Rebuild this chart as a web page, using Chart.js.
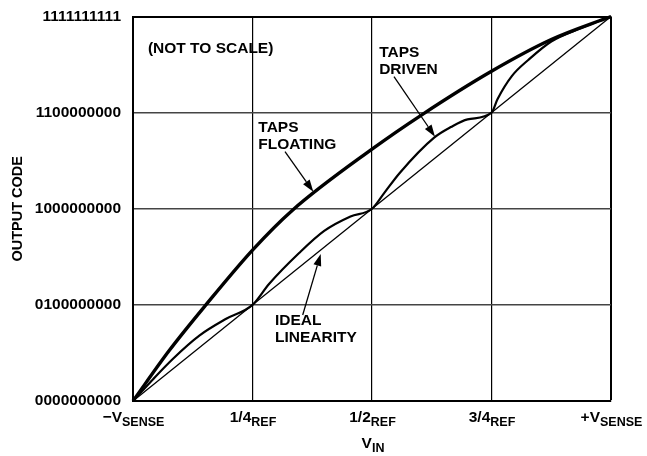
<!DOCTYPE html>
<html>
<head>
<meta charset="utf-8">
<script src="https://cdn.jsdelivr.net/npm/chart.js@4"></script>
<style>
	body { margin: 0; background: #fff; }
</style>
</head>
<body>
<canvas id="codeChart" width="647" height="456"></canvas>
<script>
const FONT = '"Liberation Sans", Arial, Helvetica, sans-serif';

// axis text
const yTickLabels = ["0000000000", "0100000000", "1000000000", "1100000000", "1111111111"];
const xTickMain = ["\u2212V", "1/4", "1/2", "3/4", "+V"];
const xTickSub = ["SENSE", "REF", "REF", "REF", "SENSE"];

// curves, in grid units (0..4 on both axes)
const idealX = [0, 4];
const idealY = [0, 4];

const floatingX = [0, 0.3, 0.61, 1, 1.33, 2, 2.42, 3, 3.5, 4];
const floatingY = [0, 0.52, 1, 1.57, 1.98, 2.62, 2.98, 3.43, 3.76, 4];

const drivenX = [0, 0.17, 0.335, 0.555, 0.78, 1, 1.14, 1.39, 1.6, 1.82, 2, 2.1, 2.23, 2.52, 2.66, 2.8, 3, 3.05, 3.17, 3.31, 3.5, 3.75, 4];
const drivenY = [0, 0.23, 0.44, 0.68, 0.855, 1, 1.22, 1.54, 1.77, 1.92, 2, 2.16, 2.37, 2.74, 2.85, 2.93, 3, 3.14, 3.38, 3.55, 3.74, 3.88, 4];

// callouts (text left edge + baseline, in axis units)
const notes = [
	{ lines: ["(NOT TO SCALE)"], x: 0.125, y: 3.62 },
	{ lines: ["TAPS", "DRIVEN"], x: 2.06, y: 3.583 },
	{ lines: ["TAPS", "FLOATING"], x: 1.049, y: 2.796 },
	{ lines: ["IDEAL", "LINEARITY"], x: 1.188, y: 0.791 },
];
const arrows = [
	{ from: [2.184, 3.375], to: [2.527, 2.75] },
	{ from: [1.272, 2.594], to: [1.509, 2.178] },
	{ from: [1.42, 0.895], to: [1.571, 1.53] },
];

const toPoints = (xs, ys) => xs.map((x, i) => ({ x, y: ys[i] }));

function drawSub(ctx, main, sub, cx, base, subDrop) {
	const mainFont = "bold 15.5px " + FONT;
	const subFont = "bold 12.5px " + FONT;
	ctx.font = mainFont;
	const w1 = ctx.measureText(main).width;
	ctx.font = subFont;
	const w2 = ctx.measureText(sub).width;
	const left = cx - (w1 + w2) / 2;
	ctx.textAlign = "left";
	ctx.textBaseline = "alphabetic";
	ctx.font = mainFont;
	ctx.fillText(main, left, base);
	ctx.font = subFont;
	ctx.fillText(sub, left + w1, base + subDrop);
}

const textPlugin = {
	id: "textPlugin",
	afterDraw(chart) {
		const { ctx, chartArea } = chart;
		const xs = chart.scales.x;
		const ys = chart.scales.y;
		ctx.save();
		ctx.fillStyle = "#000";
		ctx.strokeStyle = "#000";

		xTickMain.forEach((m, i) => {
			drawSub(ctx, m, xTickSub[i], xs.getPixelForValue(i) + 0.5, chartArea.bottom + 20.5, 4.5);
		});
		drawSub(ctx, "V", "IN", (chartArea.left + chartArea.right) / 2 + 1, chartArea.bottom + 47, 3.5);

		ctx.font = "bold 15.5px " + FONT;
		ctx.textAlign = "left";
		ctx.textBaseline = "alphabetic";
		notes.forEach((n) => {
			const px = xs.getPixelForValue(n.x);
			const py = ys.getPixelForValue(n.y);
			n.lines.forEach((line, i) => ctx.fillText(line, px, py + i * 17));
		});

		ctx.lineWidth = 1.3;
		arrows.forEach((a) => {
			const x1 = xs.getPixelForValue(a.from[0]);
			const y1 = ys.getPixelForValue(a.from[1]);
			const x2 = xs.getPixelForValue(a.to[0]);
			const y2 = ys.getPixelForValue(a.to[1]);
			const ang = Math.atan2(y2 - y1, x2 - x1);
			const len = 12;
			const half = 4;
			const bx = x2 - len * Math.cos(ang);
			const by = y2 - len * Math.sin(ang);
			ctx.beginPath();
			ctx.moveTo(x1, y1);
			ctx.lineTo(bx, by);
			ctx.stroke();
			ctx.beginPath();
			ctx.moveTo(x2, y2);
			ctx.lineTo(bx + half * Math.sin(ang), by - half * Math.cos(ang));
			ctx.lineTo(bx - half * Math.sin(ang), by + half * Math.cos(ang));
			ctx.closePath();
			ctx.fill();
		});
		ctx.restore();
	},
};

const lineStyle = (width) => ({
	borderColor: "#000",
	borderWidth: width,
	pointRadius: 0,
	fill: false,
	cubicInterpolationMode: "monotone",
	clip: false,
});

new Chart(document.getElementById("codeChart"), {
	type: "line",
	data: {
		datasets: [
			{ label: "Ideal linearity", data: toPoints(idealX, idealY), ...lineStyle(1.3), tension: 0 },
			{ label: "Taps driven", data: toPoints(drivenX, drivenY), ...lineStyle(2.2) },
			{ label: "Taps floating", data: toPoints(floatingX, floatingY), ...lineStyle(3.4) },
		],
	},
	options: {
		responsive: false,
		animation: false,
		devicePixelRatio: 1,
		layout: { padding: { top: 16.5, right: 36, left: 0, bottom: 0 } },
		plugins: {
			legend: { display: false },
			tooltip: { enabled: false },
		},
		scales: {
			x: {
				type: "linear",
				min: 0,
				max: 4,
				ticks: { display: false, stepSize: 1 },
				grid: {
					drawTicks: false,
					color: "#000",
					lineWidth: (c) => (c.tick && c.tick.value === 4 ? 2 : 1.2),
				},
				border: { display: true, color: "#000", width: 2 },
				afterFit: (scale) => {
					scale.height = 55;
				},
			},
			y: {
				type: "linear",
				min: 0,
				max: 4,
				ticks: {
					stepSize: 1,
					padding: 12,
					color: "#000",
					font: { family: FONT, size: 15.5, weight: "bold" },
					callback: (v) => yTickLabels[v] ?? "",
				},
				grid: {
					drawTicks: false,
					color: (c) => (c.tick && c.tick.value === 4 ? "#000" : "#444"),
					lineWidth: (c) => (c.tick && c.tick.value === 4 ? 2 : 1.6),
				},
				border: { display: true, color: "#000", width: 2 },
				title: {
					display: true,
					text: "OUTPUT CODE",
					color: "#000",
					font: { family: FONT, size: 14.5, weight: "bold" },
					padding: { top: 9.6, bottom: 0 },
				},
				afterFit: (scale) => {
					scale.width = 133;
					scale.paddingTop = 0;
					scale.paddingBottom = 0;
				},
			},
		},
	},
	plugins: [textPlugin],
});
</script>
</body>
</html>
